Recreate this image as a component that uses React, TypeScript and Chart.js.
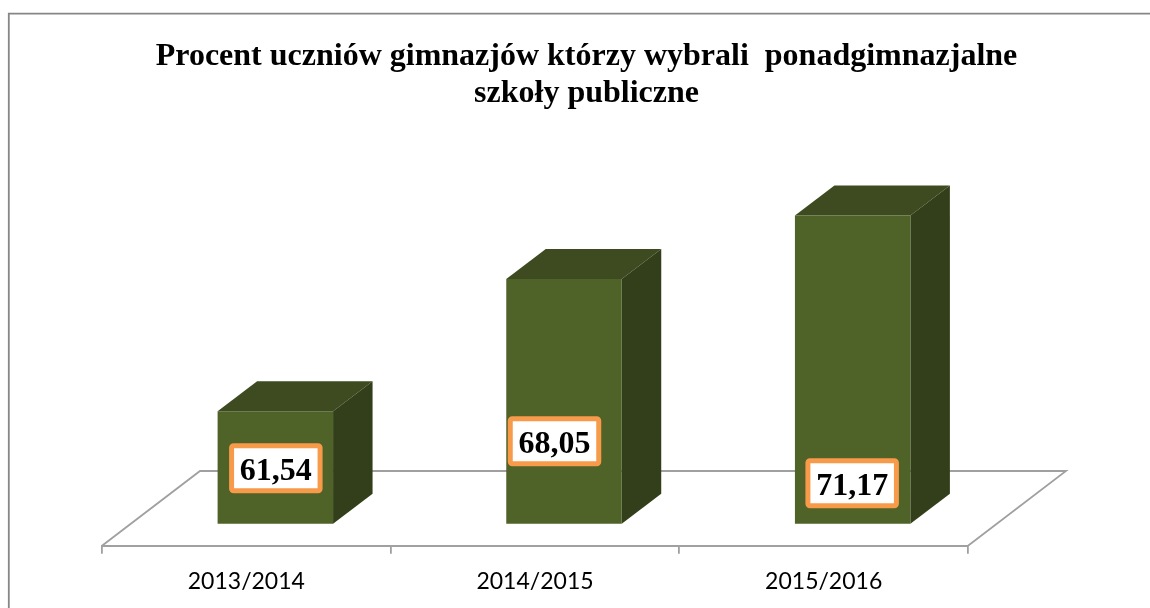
import React, { useEffect, useRef } from "react";
import { Chart, registerables } from "chart.js";

Chart.register(...registerables);

const categories = ["2013/2014", "2014/2015", "2015/2016"];
const values = [61.54, 68.05, 71.17];
const titleLines = [
  "Procent uczniów gimnazjów którzy wybrali  ponadgimnazjalne",
  "szkoły publiczne",
];
const axisMin = 56;
const axisMax = 72;

const FRONT = "#4F6228";
const TOP = "#3E4A1F";
const SIDE = "#333F1A";
const AXIS = "#A0A0A0";
const FRAME = "#868686";
const ORANGE = "#F79A4A";

// floor depth and where the bars sit on it
const FLOOR_DX = 98;
const FLOOR_DY = 74.7;
const BAR_DX = 29;
const BAR_DY = 22;
const DEPTH_DX = 39.5;
const DEPTH_DY = 30;
// data-label placement relative to the bar's foot
const LABEL_SHIFT = [
  { x: 0.5, y: -55 },
  { x: -9.5, y: -82 },
  { x: -0.5, y: -40 },
];

const scene3d = {
  id: "scene3d",
  beforeDraw(chart: any) {
    const { ctx, chartArea: a } = chart;
    ctx.save();
    ctx.strokeStyle = FRAME;
    ctx.lineWidth = 1.8;
    ctx.beginPath();
    ctx.moveTo(8.8, chart.height + 2);
    ctx.lineTo(8.8, 13.6);
    ctx.lineTo(chart.width + 2, 13.6);
    ctx.stroke();
    ctx.strokeStyle = AXIS;
    ctx.lineWidth = 1.8;
    ctx.beginPath();
    ctx.moveTo(a.left, a.bottom);
    ctx.lineTo(a.left + FLOOR_DX, a.bottom - FLOOR_DY);
    ctx.lineTo(a.right + FLOOR_DX, a.bottom - FLOOR_DY);
    ctx.lineTo(a.right, a.bottom);
    ctx.stroke();
    ctx.restore();
  },
  beforeDatasetsDraw(chart: any) {
    const { ctx } = chart;
    ctx.save();
    ctx.translate(BAR_DX, -BAR_DY);
    chart.getDatasetMeta(0).data.forEach((el: any) => {
      const l = el.x - el.width / 2;
      const r = el.x + el.width / 2;
      ctx.fillStyle = TOP;
      ctx.beginPath();
      ctx.moveTo(l, el.y);
      ctx.lineTo(l + DEPTH_DX, el.y - DEPTH_DY);
      ctx.lineTo(r + DEPTH_DX, el.y - DEPTH_DY);
      ctx.lineTo(r, el.y);
      ctx.closePath();
      ctx.fill();
      ctx.fillStyle = SIDE;
      ctx.beginPath();
      ctx.moveTo(r, el.y);
      ctx.lineTo(r + DEPTH_DX, el.y - DEPTH_DY);
      ctx.lineTo(r + DEPTH_DX, el.base - DEPTH_DY);
      ctx.lineTo(r, el.base);
      ctx.closePath();
      ctx.fill();
    });
  },
  afterDatasetsDraw(chart: any) {
    const { ctx } = chart;
    ctx.restore();
    ctx.save();
    chart.getDatasetMeta(0).data.forEach((el: any, i: number) => {
      const cx = el.x + BAR_DX + LABEL_SHIFT[i].x;
      const cy = el.base - 22.4 + LABEL_SHIFT[i].y;
      const w = 88.5;
      const h = 45;
      ctx.beginPath();
      ctx.roundRect(cx - w / 2, cy - h / 2, w, h, 2);
      ctx.fillStyle = "#FFFFFF";
      ctx.fill();
      ctx.lineWidth = 5;
      ctx.strokeStyle = ORANGE;
      ctx.stroke();
      ctx.fillStyle = "#000000";
      ctx.font = 'bold 32px "Liberation Serif"';
      ctx.textAlign = "center";
      ctx.textBaseline = "middle";
      ctx.fillText(String(values[i]).replace(".", ","), cx, cy + 3.5);
    });
    ctx.restore();
  },
};

export default function App() {
  const ref = useRef<HTMLCanvasElement>(null);
  useEffect(() => {
    const chart = new Chart(ref.current as HTMLCanvasElement, {
      type: "bar",
      data: {
        labels: categories,
        datasets: [
          {
            data: values,
            base: axisMin,
            backgroundColor: FRONT,
            barPercentage: 0.4,
            categoryPercentage: 1,
            clip: false,
          } as any,
        ],
      },
      plugins: [scene3d],
      options: {
        animation: false,
        responsive: false,
        layout: { padding: { left: 23, right: 0, top: 0, bottom: 0 } },
        plugins: {
          legend: { display: false },
          tooltip: { enabled: false },
          title: {
            display: true,
            text: titleLines,
            color: "#000000",
            font: { family: '"Liberation Serif"', size: 32, weight: "bold", lineHeight: 1.16 },
            padding: { top: 38, bottom: 108.5 },
          },
        },
        scales: {
          x: {
            afterFit: (s: any) => {
              s.height = 62.3;
            },
            grid: {
              drawOnChartArea: false,
              drawTicks: true,
              tickLength: 8,
              color: AXIS,
              lineWidth: 1.8,
            },
            border: { display: true, color: AXIS, width: 2 },
            ticks: {
              color: "#000000",
              font: { family: "Lato", size: 23 },
              maxRotation: 0,
              padding: 14,
            },
          },
          y: {
            min: axisMin,
            max: axisMax,
            position: "left",
            afterFit: (s: any) => {
              s.width = 79;
            },
            ticks: { display: false },
            grid: { display: false },
            border: { display: false },
          },
          yRight: {
            position: "right",
            afterFit: (s: any) => {
              s.width = 182;
            },
            ticks: { display: false },
            grid: { display: false },
            border: { display: false },
          },
        },
      } as any,
    });
    return () => chart.destroy();
  }, []);
  return (
    <canvas
      ref={ref}
      width={1150}
      height={608}
      style={{ position: "absolute", left: 0, top: 0, display: "block", width: 1150, height: 608 }}
    />
  );
}
